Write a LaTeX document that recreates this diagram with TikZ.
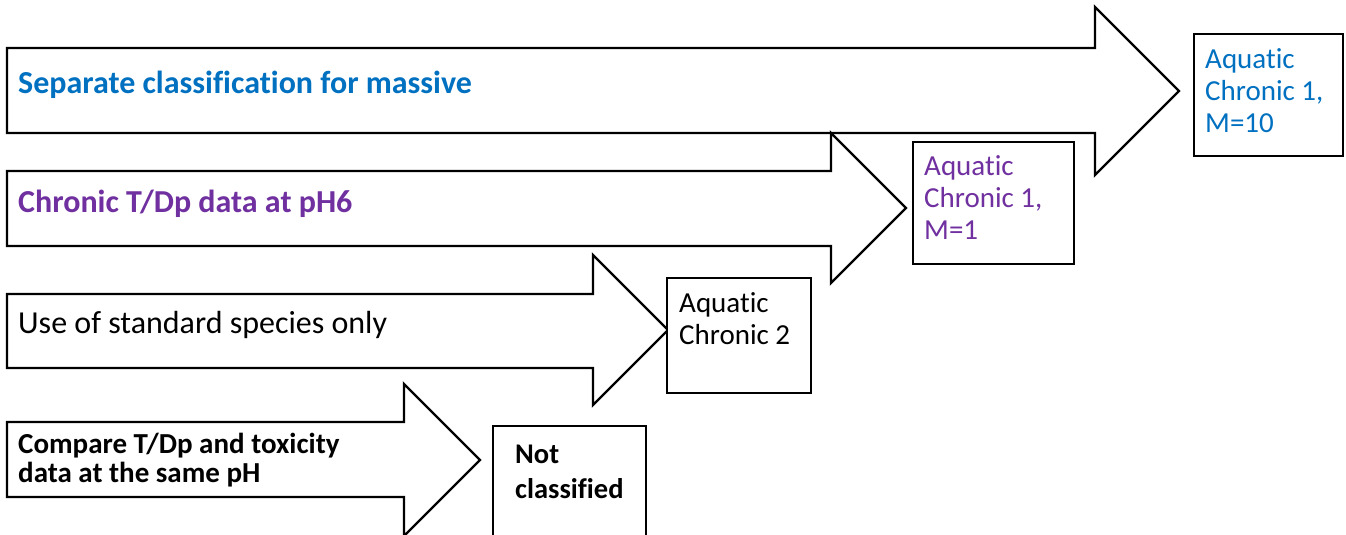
\documentclass[tikz,border=0pt]{standalone}
\usepackage{fontspec}
\setmainfont{Carlito}[Ligatures={NoCommon}]
\definecolor{ablue}{HTML}{0070C0}
\definecolor{apurple}{HTML}{7030A0}
\begin{document}
\begin{tikzpicture}[x=1pt,y=-1pt,
  outl/.style={draw=black, line width=2.4pt, fill=white, line join=miter},
  txt/.style={inner sep=0pt, anchor=base west, align=left}]
\useasboundingbox (0,0) rectangle (1346,535);
% arrows
\draw[outl] (7,48) -- (1095,48) -- (1095,7) -- (1179,91) -- (1095,175) -- (1095,133) -- (7,133) -- cycle;
\draw[outl] (7,171) -- (831,171) -- (831,133) -- (906,208) -- (831,283) -- (831,246) -- (7,246) -- cycle;
\draw[outl] (7,294) -- (593,294) -- (593,255) -- (668,330) -- (593,405) -- (593,368) -- (7,368) -- cycle;
\draw[outl] (7,422) -- (404,422) -- (404,384) -- (480,460) -- (404,536) -- (404,497) -- (7,497) -- cycle;
% boxes
\draw[outl] (1194,34) rectangle (1343,156);
\draw[outl] (913,142) rectangle (1074,264);
\draw[outl] (667,278) rectangle (811,393);
\draw[outl] (493,426) rectangle (646,550);
% arrow texts
\node[txt, text=ablue, font=\fontsize{32}{32}\selectfont\bfseries] (t1) at (18,93) {Separate classification for massive};
\node[txt, text=apurple, font=\fontsize{32}{32}\selectfont\bfseries] (t2) at (18,212) {Chronic T/Dp data at pH6};
\node[txt, font=\fontsize{32}{32}\selectfont] (t3) at (18,333) {Use of standard species only};
\node[txt, font=\fontsize{29}{29}\selectfont\bfseries] (t4) at (18,482) {Compare T/Dp and toxicity\\data at the same pH};
% box texts
\node[txt, text=ablue, font=\fontsize{29}{32}\selectfont] (b1) at (1205,132) {Aquatic\\Chronic 1,\\M=10};
\node[txt, text=apurple, font=\fontsize{29}{32}\selectfont] (b2) at (924,239) {Aquatic\\Chronic 1,\\M=1};
\node[txt, font=\fontsize{29}{32}\selectfont] (b3) at (679,344) {Aquatic\\Chronic 2};
\node[txt, font=\fontsize{28.5}{35}\selectfont\bfseries] (b4) at (515,498) {Not\\classified};
\end{tikzpicture}
\end{document}
